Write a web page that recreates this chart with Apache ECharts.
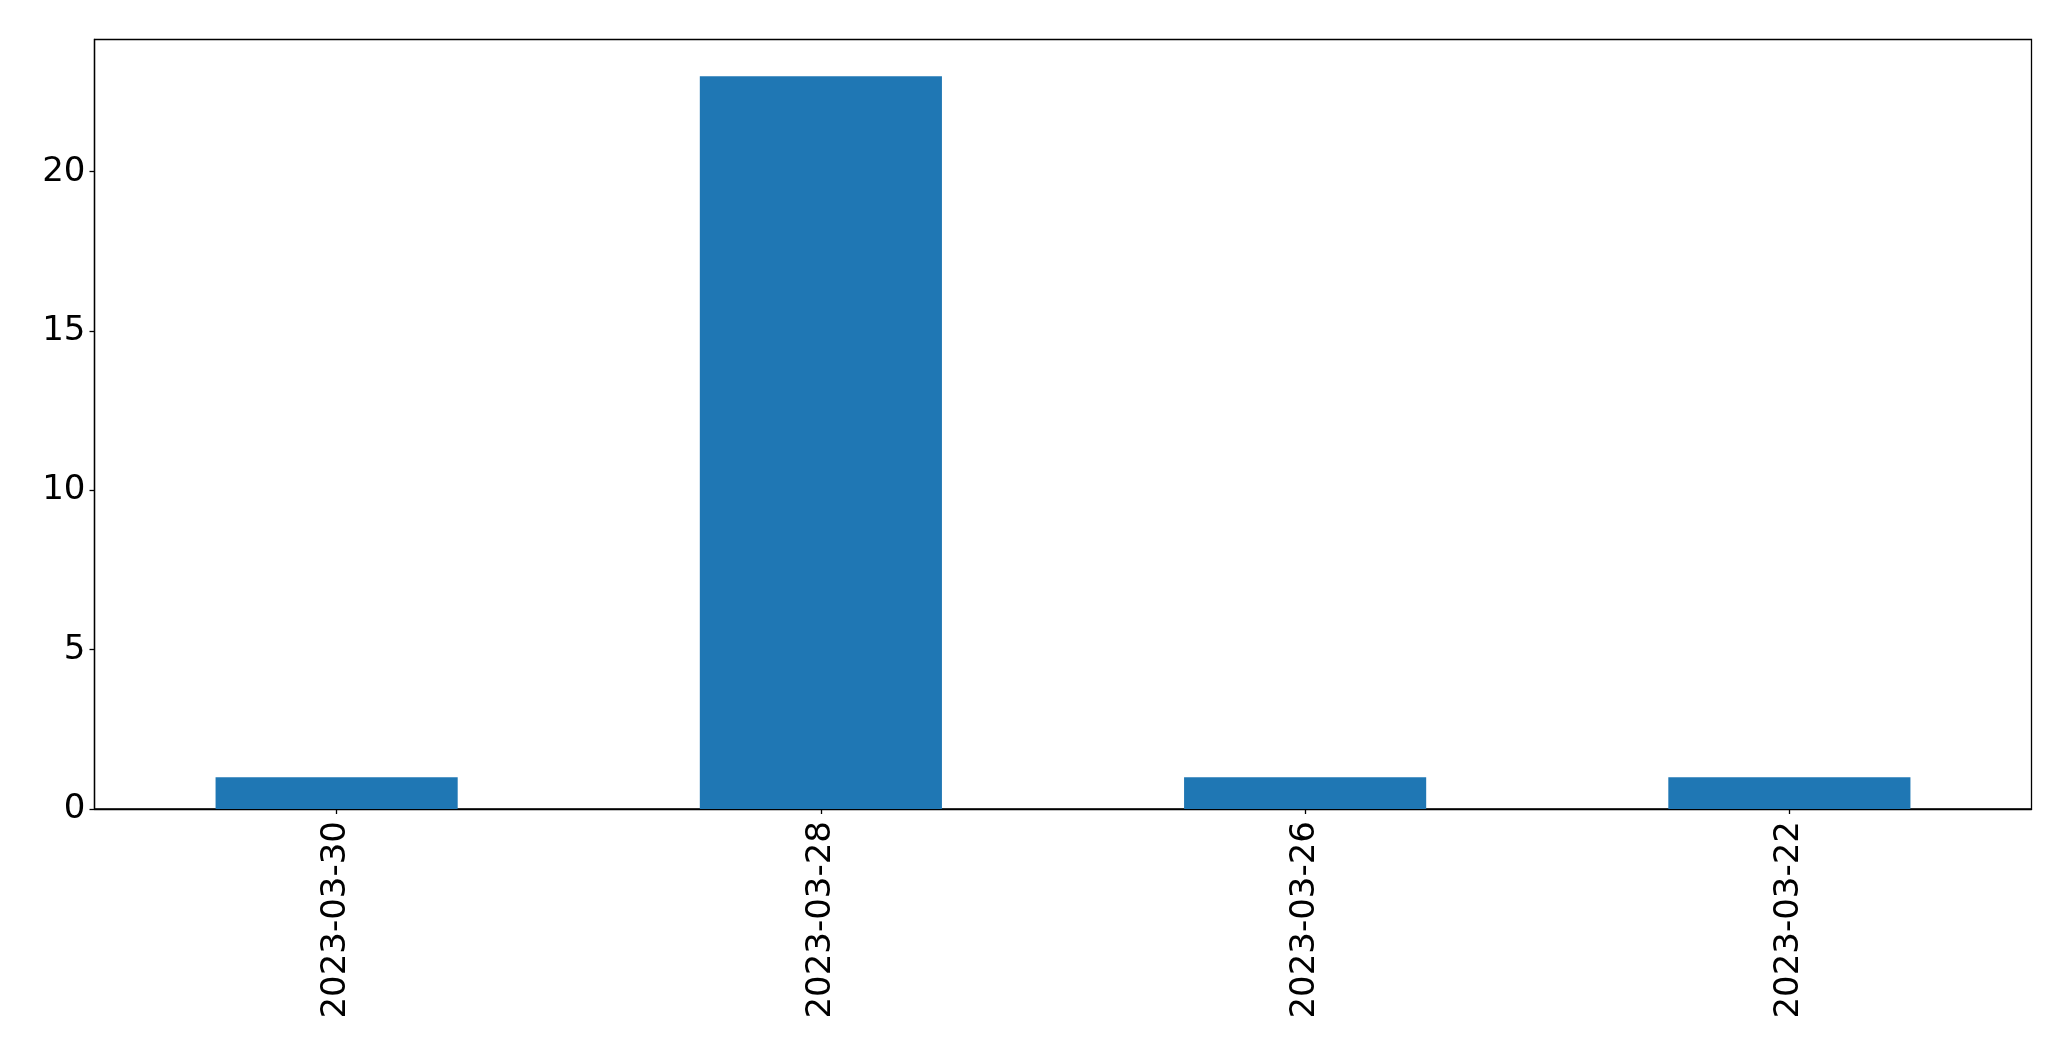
<!DOCTYPE html>
<html><head><meta charset="utf-8">
<script src="https://cdn.jsdelivr.net/npm/echarts@6/dist/echarts.min.js"></script>
<style>html,body{margin:0;padding:0;background:#fff}#c{width:2071px;height:1061px}</style>
</head><body><div id="c"></div>
<script>
const categories = ["2023-03-30", "2023-03-28", "2023-03-26", "2023-03-22"];
const counts = [1, 23, 1, 1];
const yTicks = [0, 5, 10, 15, 20];

const chart = echarts.init(document.getElementById('c'), null, {renderer: 'canvas'});
const font = 'DejaVu Sans';
chart.setOption({
  animation: false,
  grid: {left: 94.5, right: 39.5, top: 39.5, bottom: 252, show: true, borderColor: '#000', borderWidth: 1.3, backgroundColor: 'transparent'},
  xAxis: {
    type: 'category', data: categories, boundaryGap: true,
    axisLine: {show: true, lineStyle: {color: '#000', width: 1.3}},
    axisTick: {show: true, alignWithLabel: true, length: 5, lineStyle: {color: '#000', width: 1.3}},
    axisLabel: {rotate: 90, fontFamily: font, fontSize: 34, color: '#000', margin: 12}
  },
  yAxis: {
    type: 'value', min: 0, max: 24.15, interval: 5,
    splitLine: {show: false},
    axisLine: {show: true, lineStyle: {color: '#000', width: 1.3}},
    axisTick: {show: true, length: 5, lineStyle: {color: '#000', width: 1.3}},
    axisLabel: {fontFamily: font, fontSize: 34, color: '#000', margin: 9, showMaxLabel: false,
      formatter: v => yTicks.includes(v) ? String(v) : ''}
  },
  series: [{type: 'bar', data: counts, barWidth: '50%', itemStyle: {color: '#1f77b4'}}]
});
</script></body></html>
